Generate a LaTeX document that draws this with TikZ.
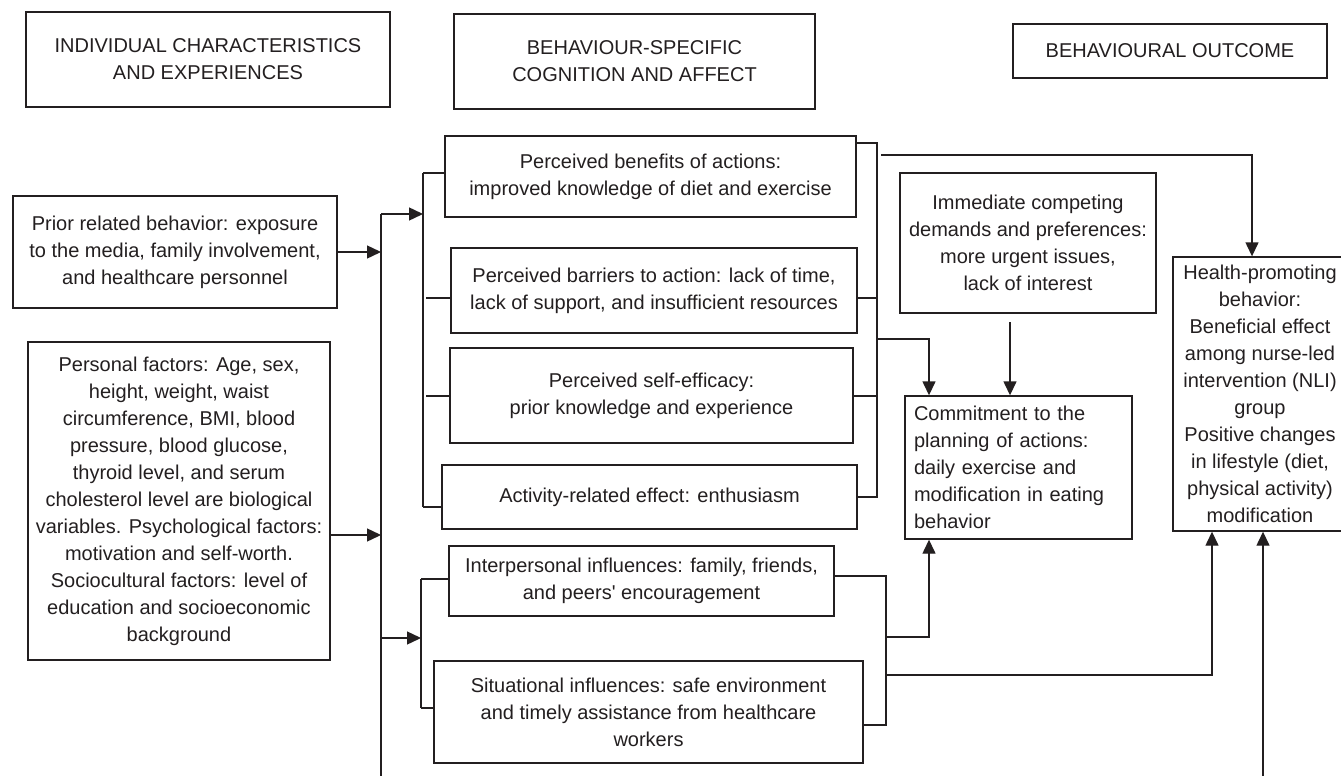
\documentclass[tikz,border=0pt]{standalone}
\usepackage{fontspec}
\setmainfont{Liberation Sans}[Ligatures=TeXOff]
\usetikzlibrary{arrows.meta}
\definecolor{ink}{HTML}{231F20}
\begin{document}
\begin{tikzpicture}[x=1pt,y=-1pt,
  every node/.style={font=\fontsize{20}{27}\selectfont, text=ink},
  box/.style={draw=ink, line width=1.4pt, inner sep=0pt, align=center},
  conn/.style={draw=ink, line width=1.4pt},
  arr/.style={conn, -{Triangle[length=14pt,width=13pt]}}]
\useasboundingbox (0,0) rectangle (1341,776);
\fill[white] (0,0) rectangle (1341,776);

% headers
\node[box, minimum width=364pt, minimum height=95pt] (hdrA) at (208,59.5) {INDIVIDUAL CHARACTERISTICS\\AND EXPERIENCES};
\node[box, minimum width=361pt, minimum height=95pt] (hdrB) at (634.5,61.5) {BEHAVIOUR-SPECIFIC\\COGNITION AND AFFECT};
\node[box, minimum width=314pt, minimum height=54pt] (hdrC) at (1170,51) {BEHAVIOURAL OUTCOME};

% left column
\node[box, minimum width=324pt, minimum height=112pt] (prior) at (175,252) {Prior related behavior: exposure\\to the media, family involvement,\\and healthcare personnel};
\node[box, minimum width=302pt, minimum height=318pt] (personal) at (179,501) {Personal factors: Age, sex,\\height, weight, waist\\circumference, BMI, blood\\pressure, blood glucose,\\thyroid level, and serum\\cholesterol level are biological\\variables. Psychological factors:\\motivation and self-worth.\\Sociocultural factors: level of\\education and socioeconomic\\background};

% middle column
\node[box, minimum width=411pt, minimum height=81pt] (benefits) at (650.5,176.5) {Perceived benefits of actions:\\improved knowledge of diet and exercise};
\node[box, minimum width=406pt, minimum height=85pt] (barriers) at (654,290.5) {Perceived barriers to action: lack of time,\\lack of support, and insufficient resources};
\node[box, minimum width=403pt, minimum height=95pt] (selfeff) at (651.5,395.5) {Perceived self-efficacy:\\prior knowledge and experience};
\node[box, minimum width=415pt, minimum height=64pt] (activity) at (649.5,497) {Activity-related effect: enthusiasm};
\node[box, minimum width=385pt, minimum height=70pt] (interp) at (641.5,581) {Interpersonal influences: family, friends,\\and peers' encouragement};
\node[box, minimum width=429pt, minimum height=102pt] (situ) at (648.5,712) {Situational influences: safe environment\\and timely assistance from healthcare\\workers};

% right part
\node[box, minimum width=256pt, minimum height=140pt] (immediate) at (1028,243) {Immediate competing\\demands and preferences:\\more urgent issues,\\lack of interest};
\node[box, minimum width=227pt, minimum height=143pt, align=left, text width=209pt, inner xsep=9pt] (commit) at (1018.5,467.5) {Commitment to the\\planning of actions:\\daily exercise and\\modification in eating\\behavior};
\node[box, minimum width=174pt, minimum height=274pt] (health) at (1260,394) {Health-promoting\\behavior:\\Beneficial effect\\among nurse-led\\intervention (NLI)\\group\\Positive changes\\in lifestyle (diet,\\physical activity)\\modification};

% left trunk
\coordinate (trunkTop) at (381,214);
\coordinate (trunkBot) at (381,790);
\coordinate (pj) at (381,535);
\coordinate (b2m) at (421,638);
\draw[conn] (trunkTop) -- (trunkBot);
\draw[arr] (prior.east) -- (prior.east -| trunkTop);
\draw[arr] (pj -| personal.east) -- (pj);

% bracket 1
\coordinate (b1m) at (423,214);
\coordinate (b1top) at (423,173);
\coordinate (b1bot) at (423,507);
\coordinate (bar) at (426,298);
\coordinate (sef) at (426,396);
\draw[arr] (trunkTop) -- (b1m);
\draw[conn] (b1top) -- (b1bot);
\draw[conn] (b1top) -- (b1top -| benefits.west);
\draw[conn] (bar) -- (bar -| barriers.west);
\draw[conn] (sef) -- (sef -| selfeff.west);
\draw[conn] (b1bot) -- (b1bot -| activity.west);

% bracket 2
\coordinate (b2top) at (421,579);
\coordinate (b2bot) at (421,708);
\draw[arr] (b2m -| trunkTop) -- (b2m);
\draw[conn] (b2top) -- (b2bot);
\draw[conn] (b2top) -- (b2top -| interp.west);
\draw[conn] (b2bot) -- (b2bot -| situ.west);

% right bracket 1
\coordinate (r1top) at (877,143);
\coordinate (r1bot) at (877,497);
\coordinate (r1bar) at (877,298);
\coordinate (r1sef) at (877,396);
\coordinate (r1c) at (877,339);
\coordinate (c1) at (929,339);
\draw[conn] (r1top -| benefits.east) -- (r1top) -- (r1bot) -- (r1bot -| activity.east);
\draw[conn] (r1bar -| barriers.east) -- (r1bar);
\draw[conn] (r1sef -| selfeff.east) -- (r1sef);
\draw[arr] (r1c) -- (c1) -- (c1 |- commit.north);

% immediate -> commitment
\coordinate (imS) at (1010,322);
\draw[arr] (imS) -- (imS |- commit.north);

% top line to health
\coordinate (h1) at (881,155);
\coordinate (h2) at (1252,155);
\draw[arr] (h1) -- (h2) -- (h2 |- health.north);

% right bracket 2
\coordinate (r2top) at (886,576);
\coordinate (r2bot) at (886,725);
\coordinate (r2a) at (886,637);
\coordinate (c2) at (929,637);
\coordinate (r2b) at (886,675);
\coordinate (h3) at (1212,675);
\coordinate (h4) at (1263,790);
\draw[conn] (r2top -| interp.east) -- (r2top) -- (r2bot) -- (r2bot -| situ.east);
\draw[arr] (r2a) -- (c2) -- (c2 |- commit.south);
\draw[arr] (r2b) -- (h3) -- (h3 |- health.south);
\draw[arr] (h4) -- (h4 |- health.south);
\end{tikzpicture}
\end{document}
